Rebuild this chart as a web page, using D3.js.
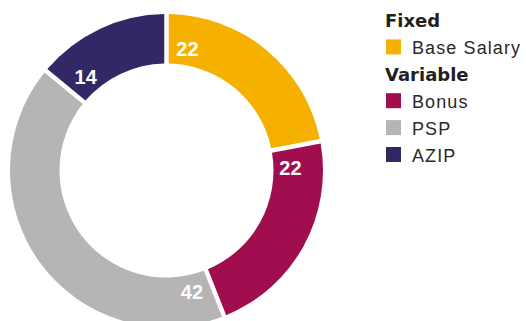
<!DOCTYPE html>
<html>
<head>
<meta charset="utf-8">
<script src="https://cdn.jsdelivr.net/npm/d3@7"></script>
<style>
  body { margin: 0; background: #fff; }
  svg { display: block; }
</style>
</head>
<body>
<div id="chart"></div>
<script>
const categories = ['Base Salary', 'Bonus', 'PSP', 'AZIP'];
const values = [22, 22, 42, 14];
const colors = ['#f6b100', '#a00e50', '#b6b5b3', '#322865'];
const groups = [
    { title: 'Fixed', items: [0] },
    { title: 'Variable', items: [1, 2, 3] }
];

const width = 526, height = 321;
const cx = 166.5, cy = 170.5;
const outerR = 156.5, innerR = 107;

const svg = d3.select('#chart').append('svg')
    .attr('width', width)
    .attr('height', height);

const g = svg.append('g').attr('transform', `translate(${cx},${cy})`);

const pie = d3.pie().sort(null).value(d => d.value);
const data = pie(categories.map((c, i) => ({ name: c, value: values[i], color: colors[i] })));

const arc = d3.arc()
    .innerRadius(innerR)
    .outerRadius(outerR)
    .padRadius(outerR)
    .padAngle(4.5 / outerR);

g.selectAll('path.slice')
    .data(data)
    .enter().append('path')
    .attr('class', 'slice')
    .attr('d', arc)
    .style('fill', d => d.data.color);

// value labels sit just after the start of each slice
const labelR = 124;
g.selectAll('text.val')
    .data(data)
    .enter().append('text')
    .attr('class', 'val')
    .attr('x', d => labelR * Math.sin(d.startAngle + 0.17))
    .attr('y', d => -labelR * Math.cos(d.startAngle + 0.17))
    .attr('dy', '0.36em')
    .attr('text-anchor', 'middle')
    .style('font-family', '"Liberation Sans", Arial, sans-serif')
    .style('font-weight', 'bold')
    .style('font-size', '20px')
    .style('fill', '#fff')
    .text(d => d.data.value);

// legend
const legend = svg.append('g').attr('transform', 'translate(385,0)');
const rowH = 26.9;
let row = 0;
groups.forEach(grp => {
    legend.append('text')
        .attr('x', 0)
        .attr('y', 27 + row * rowH)
        .style('font-family', '"DejaVu Sans", sans-serif')
        .style('font-weight', 'bold')
        .style('font-size', '18px')
        .style('fill', '#231f20')
        .text(grp.title);
    row++;
    grp.items.forEach(i => {
        const base = 27 + row * rowH;
        legend.append('rect')
            .attr('x', 1)
            .attr('y', base - 14.5)
            .attr('width', 15)
            .attr('height', 15)
            .style('fill', colors[i]);
        legend.append('text')
            .attr('x', 27)
            .attr('y', base)
            .style('font-family', '"Liberation Sans", Arial, sans-serif')
            .style('font-size', '18px')
            .style('letter-spacing', '1.1px')
            .style('fill', '#2b2829')
            .text(categories[i]);
        row++;
    });
});
</script>
</body>
</html>
